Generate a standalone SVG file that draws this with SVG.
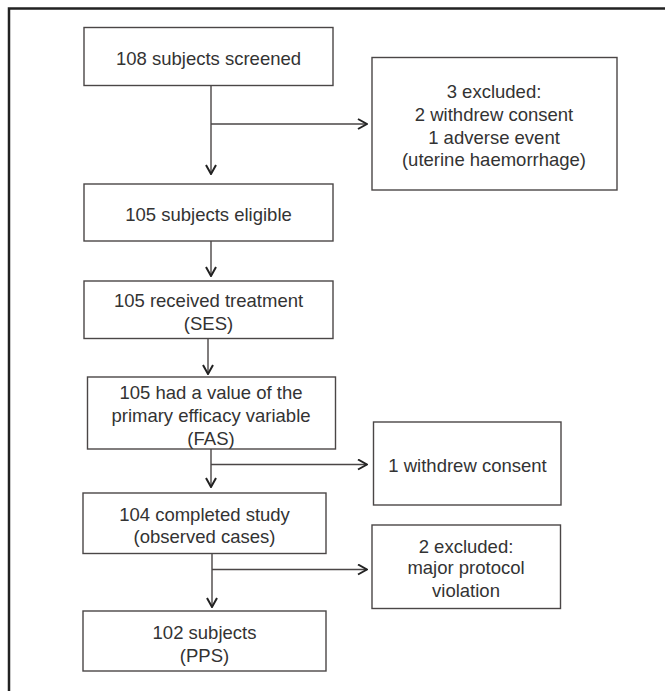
<svg xmlns="http://www.w3.org/2000/svg" width="665" height="691" viewBox="0 0 665 691">
  <style>
    .box { fill: #ffffff; stroke: #4a4646; stroke-width: 1.4; }
    .lbl { font-family: "Liberation Sans", Arial, sans-serif; font-size: 18.5px; fill: #333333; text-anchor: middle; }
    .conn { fill: none; stroke: #4a4646; stroke-width: 1.4; }
    .frame { fill: none; stroke: #222222; stroke-width: 2.5; }
  </style>
  <defs>
    <marker id="chev" viewBox="0 0 12 12" refX="11" refY="6" markerWidth="12" markerHeight="12" markerUnits="userSpaceOnUse" orient="auto">
      <path d="M2,1 L11,6 L2,11" fill="none" stroke="#222222" stroke-width="2"/>
    </marker>
  </defs>

  <rect width="665" height="691" fill="#ffffff"/>

  <!-- outer frame: top and left rules only -->
  <path class="frame" d="M9,691 L9,8.5 L665,8.5"/>

  <g id="connectors">
    <path class="conn" d="M211,85.5 L211,174" marker-end="url(#chev)"/>
    <path class="conn" d="M211,124 L367,124" marker-end="url(#chev)"/>
    <path class="conn" d="M211,241 L211,276" marker-end="url(#chev)"/>
    <path class="conn" d="M208,338.5 L208,374" marker-end="url(#chev)"/>
    <path class="conn" d="M211,449 L211,487" marker-end="url(#chev)"/>
    <path class="conn" d="M211,464.5 L367,464.5" marker-end="url(#chev)"/>
    <path class="conn" d="M212,553.5 L212,607" marker-end="url(#chev)"/>
    <path class="conn" d="M212,569.5 L367,569.5" marker-end="url(#chev)"/>
  </g>

  <g id="screened">
    <rect class="box" x="84" y="27.5" width="249" height="58"/>
    <text class="lbl" x="208.5" y="65">108 subjects screened</text>
  </g>

  <g id="excluded-screening">
    <rect class="box" x="372" y="57.5" width="245" height="132.5"/>
    <text class="lbl" x="494" y="98.3">3 excluded:</text>
    <text class="lbl" x="494" y="120.8">2 withdrew consent</text>
    <text class="lbl" x="494" y="143.5">1 adverse event</text>
    <text class="lbl" x="494" y="165.8">(uterine haemorrhage)</text>
  </g>

  <g id="eligible">
    <rect class="box" x="84" y="184" width="249" height="57"/>
    <text class="lbl" x="208.5" y="220.6">105 subjects eligible</text>
  </g>

  <g id="treated">
    <rect class="box" x="84" y="281" width="249" height="57.5"/>
    <text class="lbl" x="208.5" y="306.6">105 received treatment</text>
    <text class="lbl" x="208.5" y="330">(SES)</text>
  </g>

  <g id="fas">
    <rect class="box" x="87.5" y="377" width="248" height="72"/>
    <text class="lbl" x="211" y="399.3">105 had a value of the</text>
    <text class="lbl" x="211" y="421.5">primary efficacy variable</text>
    <text class="lbl" x="211" y="444.5">(FAS)</text>
  </g>

  <g id="withdrew">
    <rect class="box" x="373.5" y="422" width="187.5" height="83"/>
    <text class="lbl" x="467.5" y="471.6">1 withdrew consent</text>
  </g>

  <g id="completed">
    <rect class="box" x="83" y="493" width="243" height="60.5"/>
    <text class="lbl" x="204.5" y="521">104 completed study</text>
    <text class="lbl" x="204.5" y="543">(observed cases)</text>
  </g>

  <g id="excluded-protocol">
    <rect class="box" x="372" y="525" width="188.5" height="83.5"/>
    <text class="lbl" x="466" y="552.6">2 excluded:</text>
    <text class="lbl" x="466" y="574.3">major protocol</text>
    <text class="lbl" x="466" y="597">violation</text>
  </g>

  <g id="pps">
    <rect class="box" x="83" y="611" width="243" height="60"/>
    <text class="lbl" x="204.5" y="639">102 subjects</text>
    <text class="lbl" x="204.5" y="661.5">(PPS)</text>
  </g>
</svg>
